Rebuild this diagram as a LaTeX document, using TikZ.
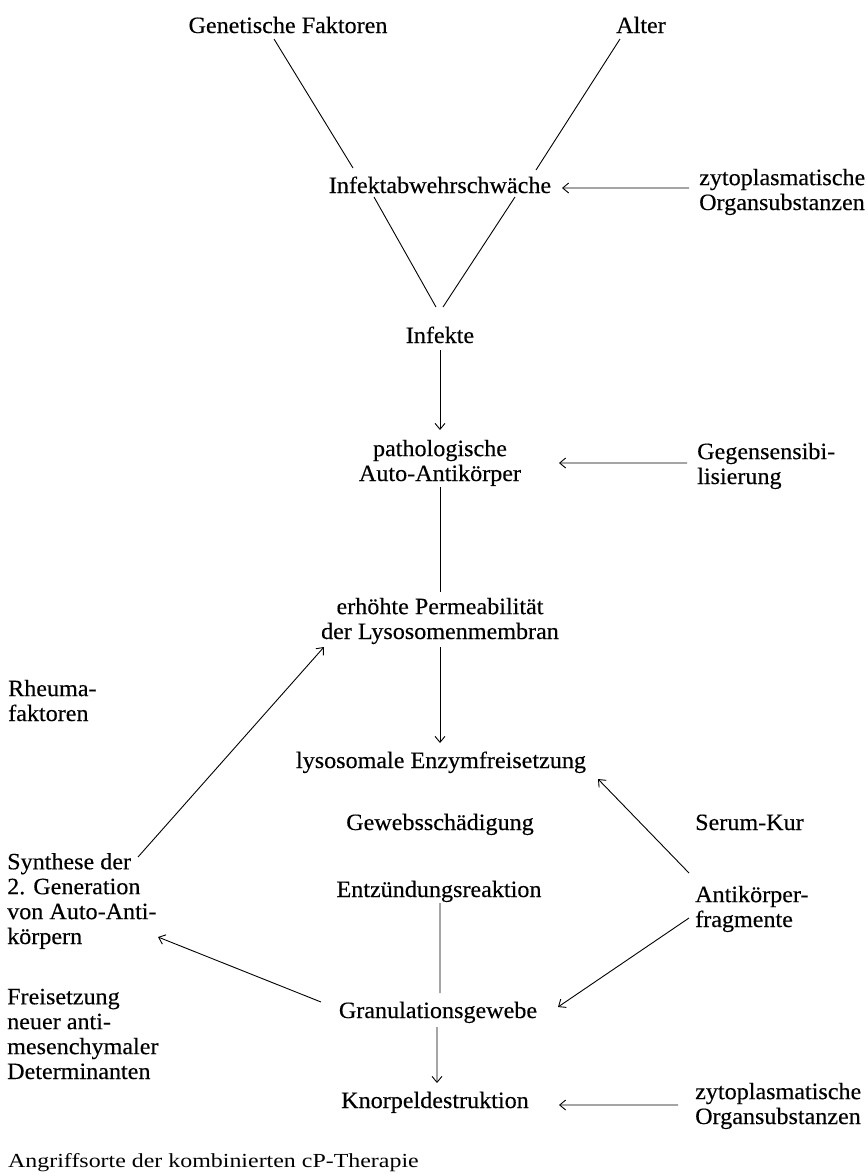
\documentclass[tikz,border=0pt]{standalone}
\usepackage{fontspec}
\setmainfont{Liberation Serif}[FakeStretch=1.03,FakeBold=0.3]
\newfontfamily\capfont{Liberation Serif}[FakeStretch=1.2]
\usetikzlibrary{arrows.meta}
\begin{document}
\begin{tikzpicture}[x=1bp,y=1bp,
		lbl/.style={inner sep=0pt, anchor=base, align=center, font=\fontsize{23.5}{25}\selectfont},
		side/.style={lbl, anchor=base west, align=left},
		link/.style={line width=0.9bp},
		pfeil/.style={link, -{Straight Barb[length=6bp,width=10bp]}}]
				\useasboundingbox (0,0) rectangle (868,-1173);
				% Ursachen (base = letzte Zeile)
				\node[lbl] (gen) at (288,-33) {Genetische Faktoren};
				\node[lbl] (alter) at (641,-33) {Alter};
				\node[lbl] (abwehr) at (440,-193) {Infektabwehrschwäche};
				\node[side] (zyto1) at (699,-210) {zytoplasmatische\\Organsubstanzen};
				\node[lbl] (infekte) at (440,-343) {Infekte};
				\node[lbl] (patho) at (440,-481) {pathologische\\Auto-Antikörper};
				\node[side] (gegen) at (697,-484) {Gegensensibi-\\lisierung};
				\node[lbl] (perm) at (440,-639) {erhöhte Permeabilität\\der Lysosomenmembran};
				\node[side] (rheuma) at (8,-721) {Rheuma-\\faktoren};
				\node[lbl] (lyso) at (441,-768) {lysosomale Enzymfreisetzung};
				\node[lbl] (gewebe) at (440,-830) {Gewebsschädigung};
				\node[side] (serum) at (695,-830) {Serum-Kur};
				\node[lbl] (entz) at (439,-897) {Entzündungsreaktion};
				\node[side] (synth) at (7,-944) {Synthese der\\2. Generation\\von Auto-Anti-\\körpern};
				\node[side] (antik) at (695,-927) {Antikörper-\\fragmente};
				\node[lbl] (granu) at (438,-1018) {Granulationsgewebe};
				\node[side] (frei) at (7,-1079) {Freisetzung\\neuer anti-\\mesenchymaler\\Determinanten};
				\node[lbl] (knorpel) at (435,-1108) {Knorpeldestruktion};
				\node[side] (zyto2) at (695,-1124) {zytoplasmatische\\Organsubstanzen};
				\node[side, font=\capfont\fontsize{20}{24}\selectfont] (titel) at (8,-1167) {Angriffsorte der kombinierten cP-Therapie};
				% Verbindungen
				\draw[link] ([xshift=-14bp,yshift=-6bp]gen.base) -- ([xshift=-87bp,yshift=25bp]abwehr.base);
				\draw[link] ([xshift=-21bp,yshift=-6bp]alter.base) -- ([xshift=96bp,yshift=23bp]abwehr.base);
				\draw[pfeil] ([xshift=-10bp,yshift=22bp]zyto1.base west) -- ([xshift=122bp,yshift=5bp]abwehr.base);
				\draw[link] ([xshift=-66bp,yshift=-4bp]abwehr.base) -- ([xshift=-4bp,yshift=36bp]infekte.base);
				\draw[link] ([xshift=75bp,yshift=-4bp]abwehr.base) -- ([xshift=3bp,yshift=36bp]infekte.base);
				\draw[pfeil] ([yshift=-7bp]infekte.base) -- ([yshift=51bp]patho.base);
				\draw[pfeil] ([xshift=-10bp,yshift=21bp]gegen.base west) -- ([xshift=119bp,yshift=18bp]patho.base);
				\draw[link] ([yshift=-6bp]patho.base) -- ([yshift=47bp]perm.base);
				\draw[pfeil] ([yshift=-8bp]perm.base) -- ([xshift=-1bp,yshift=25bp]lyso.base);
				\draw[pfeil] ([xshift=131bp,yshift=87bp]synth.base west) -- ([xshift=-116bp,yshift=-8bp]perm.base);
				\draw[pfeil] ([xshift=-6bp,yshift=54bp]antik.base west) -- ([xshift=157bp,yshift=-11bp]lyso.base);
				\draw[pfeil] ([xshift=-6bp,yshift=9bp]antik.base west) -- ([xshift=120bp,yshift=11bp]granu.base);
				\draw[link] ([xshift=1bp,yshift=-6bp]entz.base) -- ([xshift=2bp,yshift=25bp]granu.base);
				\draw[pfeil] ([xshift=-117bp,yshift=16bp]granu.base) -- ([xshift=151bp,yshift=7bp]synth.base west);
				\draw[pfeil] ([xshift=-1bp,yshift=-9bp]granu.base) -- ([xshift=2bp,yshift=25bp]knorpel.base);
				\draw[pfeil] ([xshift=-17bp,yshift=19bp]zyto2.base west) -- ([xshift=124bp,yshift=3bp]knorpel.base);
\end{tikzpicture}
\end{document}
